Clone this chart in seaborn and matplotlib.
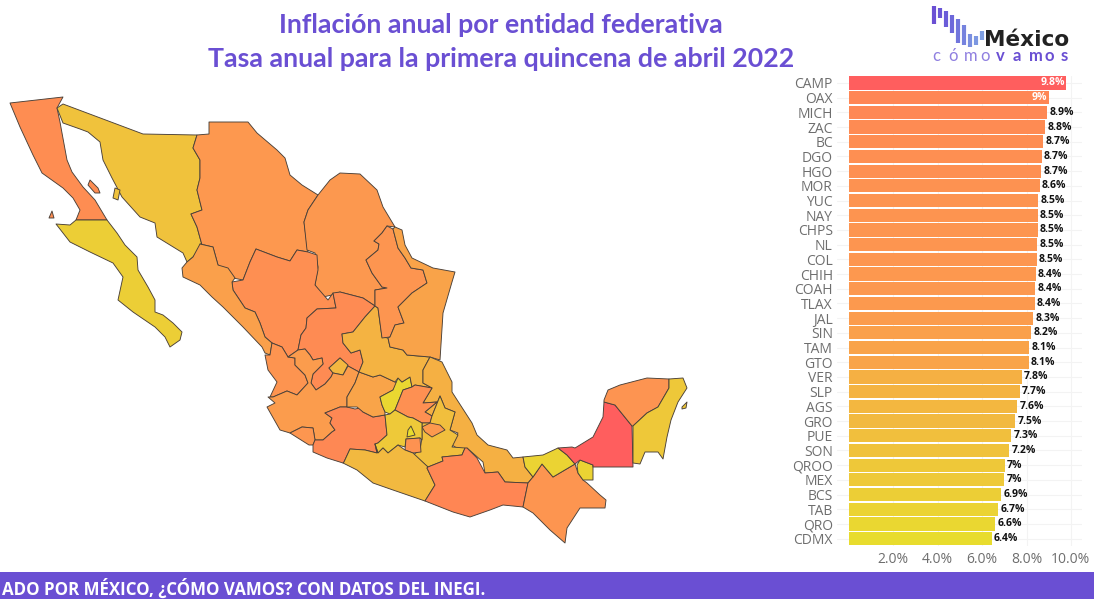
import matplotlib
matplotlib.use("Agg")
import matplotlib.pyplot as plt
import pandas as pd
import seaborn as sns
from matplotlib.colors import LinearSegmentedColormap, Normalize
from matplotlib.patches import Rectangle

# datos de la grafica de barras
estados = ["CAMP", "OAX", "MICH", "ZAC", "BC", "DGO", "HGO", "MOR", "YUC", "NAY", "CHPS", "NL", "COL",
           "CHIH", "COAH", "TLAX", "JAL", "SIN", "TAM", "GTO", "VER", "SLP", "AGS", "GRO", "PUE", "SON",
           "QROO", "MEX", "BCS", "TAB", "QRO", "CDMX"]
inflacion = [9.8, 9.0, 8.93, 8.83, 8.74, 8.69, 8.66, 8.6, 8.53, 8.51, 8.5, 8.49, 8.46,
             8.42, 8.4, 8.37, 8.3, 8.2, 8.12, 8.09, 7.78, 7.7, 7.58, 7.5, 7.31, 7.22,
             7.03, 7.0, 6.87, 6.72, 6.6, 6.44]
ticks_x = [2, 4, 6, 8, 10]

# contornos de cada entidad
BC = [(10,103),(63,97),(57,108),(60,122),(62,133),(67,160),(72,172),(83,187),(95,200),(107,220),(76,220),(80,210),(73,198),(63,188),(42,173),(33,155),(20,127)]
BC_isla1 = [(90,180),(98,188),(100,193),(95,193),(88,185)]
BC_isla2 = [(52,211),(54,218),(49,218)]
BCS = [(56,224),(70,225),(76,220),(107,220),(117,233),(125,245),(137,257),(138,270),(148,287),(155,300),(155,312),(163,315),(173,323),(182,332),(180,340),(170,347),(165,337),(155,327),(133,312),(118,300),(123,277),(113,263),(90,252),(70,242)]
SON = [(57,108),(63,104),(143,134),(197,135),(193,148),(200,160),(200,178),(197,190),(202,210),(191,214),(197,227),(202,245),(193,257),(187,262),(183,253),(170,245),(157,237),(155,223),(140,217),(122,197),(112,178),(103,160),(100,142),(88,132),(80,129),(63,123)]
SON_isla = [(115,188),(120,190),(118,200),(113,198)]
CHIH = [(197,135),(209,134),(209,122),(248,122),(257,133),(277,150),(285,158),(290,175),(302,185),(318,195),(308,210),(304,222),(308,252),(297,250),(290,261),(277,257),(256,249),(250,262),(243,280),(233,278),(218,265),(213,247),(200,244),(202,245),(197,227),(191,214),(202,210),(197,190),(200,178),(200,160),(193,148)]
COAH = [(318,195),(330,180),(340,173),(360,174),(377,190),(383,207),(395,227),(387,226),(382,233),(374,241),(379,244),(378,250),(366,260),(372,273),(382,287),(387,288),(375,290),(375,306),(363,298),(340,292),(332,295),(323,297),(315,285),(318,267),(315,253),(307,250),(304,222),(308,210)]
DGO = [(256,249),(277,257),(290,261),(297,250),(308,252),(317,255),(318,270),(315,285),(328,300),(333,293),(336,308),(317,309),(307,318),(306,328),(301,335),(298,350),(288,357),(282,347),(272,343),(265,337),(260,323),(255,312),(245,308),(233,290),(232,282),(243,280),(250,262)]
SIN = [(200,244),(213,247),(218,265),(228,268),(235,278),(232,282),(233,290),(245,308),(255,312),(260,323),(265,337),(272,343),(270,355),(265,353),(262,347),(243,327),(223,307),(212,297),(200,285),(183,277),(182,268),(187,262),(193,257)]
NAY = [(272,343),(282,347),(288,357),(295,358),(295,365),(305,375),(308,383),(297,395),(287,391),(273,397),(270,397),(277,382),(268,370),(265,355),(270,355)]
AGS = [(329,368),(340,358),(348,365),(343,375),(333,373)]
ZAC = [(336,308),(333,293),(340,292),(363,298),(375,306),(365,317),(353,332),(342,334),(343,343),(351,353),(360,350),(363,362),(359,372),(348,366),(340,358),(329,368),(333,373),(331,377),(325,384),(316,390),(311,383),(313,374),(323,364),(322,358),(313,360),(310,355),(305,349),(298,350),(301,335),(306,328),(307,318),(317,309)]
JAL = [(288,357),(298,350),(305,349),(310,355),(313,360),(322,358),(323,364),(313,374),(311,383),(316,390),(325,384),(331,377),(333,373),(343,375),(348,366),(359,372),(355,383),(347,397),(347,407),(340,407),(325,413),(332,418),(330,423),(335,430),(332,432),(323,440),(315,440),(313,428),(302,427),(290,433),(280,430),(267,407),(275,403),(268,397),(273,397),(287,391),(297,395),(308,383),(305,375),(295,365),(295,358)]
COL = [(290,433),(302,427),(313,428),(315,440),(313,445),(309,445)]
MICH = [(313,445),(315,440),(323,440),(332,432),(335,430),(330,423),(332,418),(325,413),(340,407),(347,407),(355,409),(360,408),(363,412),(373,417),(385,415),(387,435),(378,443),(375,444),(377,453),(365,450),(350,449),(344,462),(343,463),(327,458),(313,452)]
GTO = [(359,372),(373,377),(380,375),(395,382),(398,383),(393,390),(380,397),(382,405),(385,412),(385,415),(373,417),(363,412),(357,407),(347,407),(347,397),(355,383)]
QRO = [(398,378),(402,382),(410,377),(412,387),(403,390),(395,410),(390,414),(385,412),(382,405),(380,397),(393,390)]
HGO = [(412,387),(415,385),(432,388),(423,403),(437,402),(425,412),(432,416),(430,423),(422,423),(413,418),(408,417),(395,410),(403,390)]
SLP = [(375,306),(378,308),(382,337),(388,338),(390,347),(403,350),(407,355),(430,357),(423,370),(423,383),(432,388),(415,385),(412,387),(410,377),(402,382),(398,378),(395,382),(380,375),(373,377),(359,372),(363,362),(360,350),(351,353),(343,343),(342,334),(353,332),(365,317)]
NL = [(387,226),(393,229),(398,248),(405,258),(411,268),(423,270),(427,283),(412,293),(398,307),(404,323),(395,325),(390,337),(382,338),(378,308),(375,306),(375,290),(387,288),(382,287),(372,273),(366,260),(378,250),(379,244),(374,241),(382,233)]
TAM = [(395,227),(402,230),(405,245),(412,258),(433,268),(455,272),(452,282),(443,313),(440,360),(430,357),(407,355),(403,350),(390,347),(388,338),(390,337),(395,325),(404,323),(398,307),(412,293),(427,283),(423,270),(411,268),(405,258),(398,248),(393,229)]
VER = [(430,357),(442,362),(452,382),(452,392),(472,423),(477,435),(488,445),(507,450),(513,458),(523,457),(525,467),(533,477),(528,483),(505,482),(498,472),(485,473),(483,462),(467,448),(463,452),(452,445),(458,433),(450,430),(455,412),(445,408),(440,396),(432,416),(425,412),(437,402),(423,403),(432,388),(423,383),(423,370)]
PUE = [(422,423),(430,423),(432,416),(440,396),(445,408),(455,412),(450,430),(458,435),(452,447),(465,448),(462,455),(442,457),(443,461),(428,467),(413,455),(420,450),(422,438)]
TLAX = [(422,427),(430,423),(440,425),(445,430),(432,437),(425,432)]
MEX = [(385,415),(390,414),(395,410),(408,417),(413,418),(422,423),(422,440),(420,438),(406,439),(405,447),(398,445),(388,453),(383,448),(378,453),(375,444),(378,443),(387,435)]
CDMX = [(411,426),(415,435),(407,437),(408,430)]
MOR = [(406,439),(420,438),(421,452),(413,453),(405,450)]
GRO = [(343,463),(344,462),(350,449),(365,450),(377,453),(375,444),(378,453),(383,448),(388,453),(398,445),(405,450),(413,453),(428,467),(427,468),(435,485),(425,501),(393,490),(373,483),(357,470)]
OAX = [(427,468),(428,467),(443,461),(442,457),(462,455),(465,448),(467,448),(477,458),(485,473),(498,472),(505,482),(528,483),(523,507),(503,505),(490,510),(470,517),(453,512),(425,501),(435,485)]
CHPS = [(528,483),(533,477),(542,464),(553,477),(575,464),(578,473),(583,480),(587,483),(600,495),(606,500),(605,508),(580,508),(567,528),(565,543),(550,530),(533,513),(523,507)]
TAB = [(523,457),(543,455),(558,448),(567,455),(575,464),(553,477),(542,464),(533,477),(525,467)]
TAB_este = [(577,465),(580,460),(593,465),(593,480),(583,480),(578,473)]
CAMP = [(558,448),(572,447),(575,448),(593,437),(598,427),(603,417),(604,402),(615,405),(632,426),(633,467),(593,467),(593,465),(580,460),(575,464),(567,455)]
YUC = [(604,402),(604,400),(608,390),(620,385),(647,378),(669,379),(669,388),(658,407),(647,413),(633,426),(632,426),(615,405)]
QROO = [(669,379),(683,378),(687,388),(678,402),(671,420),(667,437),(663,459),(658,452),(645,452),(640,464),(633,463),(633,426),(647,413),(658,407),(669,388)]
QROO_isla = [(682,407),(687,402),(686,408),(682,409)]

mapa = [("BC", BC), ("BC", BC_isla1), ("BC", BC_isla2), ("BCS", BCS), ("SON", SON), ("SON", SON_isla), ("CHIH", CHIH),
        ("COAH", COAH), ("DGO", DGO), ("SIN", SIN), ("NAY", NAY), ("ZAC", ZAC), ("AGS", AGS), ("JAL", JAL), ("COL", COL),
        ("MICH", MICH), ("GTO", GTO), ("QRO", QRO), ("SLP", SLP), ("NL", NL), ("TAM", TAM), ("VER", VER), ("HGO", HGO),
        ("PUE", PUE), ("TLAX", TLAX), ("MEX", MEX), ("CDMX", CDMX), ("MOR", MOR), ("GRO", GRO), ("OAX", OAX), ("CHPS", CHPS),
        ("TAB", TAB), ("TAB", TAB_este), ("CAMP", CAMP), ("YUC", YUC), ("QROO", QROO), ("QROO", QROO_isla)]

# logo
logo_y1 = [6, 8, 11, 15, 19, 25, 34, 36, 31]
logo_y2 = [24, 18, 27, 33, 43, 45, 47, 45, 40]
logo_col = ["#6a4fd3", "#6a55d6", "#6a5cd8", "#6d68da", "#7175dc", "#7582de", "#7a8fe0", "#7c97e1", "#7f9fe2"]

morado = "#6a4fd3"
gris = "#6e6e6e"
escala = LinearSegmentedColormap.from_list("inflacion", ["#e8dc2e", "#efc53b", "#f5b043", "#fd9650", "#ff8255", "#ff5e5e"])
norma = Normalize(min(inflacion), max(inflacion))
color_estado = {e: escala(norma(v)) for e, v in zip(estados, inflacion)}

sns.set_theme(style="white")
plt.rcParams["font.family"] = ["Open Sans", "DejaVu Sans"]

fig = plt.figure(figsize=(10.94, 5.99), dpi=100)

# lienzo en pixeles para mapa, titulo y logo
lienzo = fig.add_axes([0, 0, 1, 1])
lienzo.set_xlim(0, 1094)
lienzo.set_ylim(599, 0)
lienzo.axis("off")

for clave, contorno in mapa:
    xs, ys = zip(*contorno)
    lienzo.fill(xs, ys, facecolor=color_estado[clave], edgecolor="#4a4038", linewidth=0.65, joinstyle="round")

lienzo.text(501, 25, "Inflación anual por entidad federativa", color=morado, fontsize=19.3, fontweight="bold",
            family="Lato", ha="center", va="center")
lienzo.text(501, 59, "Tasa anual para la primera quincena de abril 2022", color=morado, fontsize=19.3, fontweight="bold",
            family="Lato", ha="center", va="center")

# franja de abajo
lienzo.add_patch(Rectangle((0, 572), 1094, 27, color=morado, linewidth=0))
lienzo.text(485, 589, "ADO POR MÉXICO, ¿CÓMO VAMOS? CON DATOS DEL INEGI.", color="white", fontsize=12.2,
            fontweight="bold", ha="right", va="center")

# logo
for i in range(len(logo_y1)):
    lienzo.plot([934 + i * 6.05] * 2, [logo_y1[i], logo_y2[i]], color=logo_col[i], linewidth=3, solid_capstyle="butt")
lienzo.text(1069, 40, "México", color="#222222", fontsize=15.6, fontweight="bold", family="DejaVu Sans", ha="right", va="center")
for i, letra in enumerate("cómovamos"):
    lienzo.text(932 + i * 16.1, 56, letra, color="#8f7fe0" if i < 4 else morado, fontsize=12,
                fontweight="normal" if i < 4 else "bold", family="Lato", ha="left", va="center")

# barras
df = pd.DataFrame({"estado": estados, "inflacion": inflacion})
ax = fig.add_axes([837 / 1094, 1 - 546 / 599, 245 / 1094, 470.4 / 599])
sns.barplot(data=df, x="inflacion", y="estado", hue="estado", palette=color_estado, legend=False,
            width=0.9, linewidth=0, saturation=1, ax=ax)
ax.set_xlim(-0.54, 10.5)
ax.set_xlabel("")
ax.set_ylabel("")
ax.set_xticks(ticks_x)
ax.set_xticklabels([f"{t:.1f}%" for t in ticks_x])
ax.grid(True, color="#f3f3f3", linewidth=0.8)
ax.set_axisbelow(True)
ax.tick_params(axis="y", length=0, pad=3, labelsize=10, labelcolor=gris)
ax.tick_params(axis="x", length=0, pad=4, labelsize=10, labelcolor=gris)
sns.despine(ax=ax, left=True, bottom=True)

for i, v in enumerate(inflacion):
    texto = f"{round(v, 1):g}%"
    if v >= 9:
        ax.text(v - 0.05, i, texto, color="white", fontsize=7.5, fontweight="bold", ha="right", va="center")
    else:
        ax.text(v + 0.1, i, texto, color="#111111", fontsize=7.5, fontweight="bold", ha="left", va="center")

fig.savefig("out.png", dpi=100)
